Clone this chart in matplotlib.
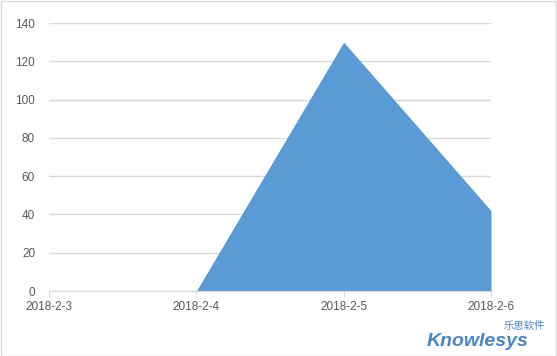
import matplotlib.pyplot as plt
from matplotlib.patches import Rectangle

dates = ['2018-2-3', '2018-2-4', '2018-2-5', '2018-2-6']
values = [0, 0, 130, 42]
y_ticks = [0, 20, 40, 60, 80, 100, 120, 140]

plt.rcParams['font.family'] = ['Liberation Sans', 'Noto Sans CJK SC', 'DejaVu Sans']

fig = plt.figure(figsize=(5.57, 3.56), dpi=100)
ax = fig.add_axes([49 / 557, 1 - 291 / 356, 442 / 557, 268 / 356])

x = list(range(len(dates)))
ax.fill_between(x, values, 0, color='#5b9bd5', linewidth=0)

ax.set_xlim(0, len(dates) - 1)
ax.set_ylim(0, 140)
ax.set_yticks(y_ticks)
ax.set_xticks(x)
ax.set_xticklabels(dates)
ax.grid(axis='y', color='#d9d9d9', linewidth=1)
ax.set_axisbelow(True)

for side in ['top', 'right', 'left']:
    ax.spines[side].set_visible(False)
ax.spines['bottom'].set_color('#d9d9d9')
ax.tick_params(axis='y', length=0, pad=10, labelsize=8.5, labelcolor='#595959')
ax.tick_params(axis='x', length=4, color='#d9d9d9', pad=3, labelsize=8.5, labelcolor='#595959')

# outer border
fig.patches.append(Rectangle((0.001, 0.001), 0.997, 0.996, transform=fig.transFigure,
                             fill=False, edgecolor='#d9d9d9', linewidth=1))

# watermark
fig.text(427 / 557, 1 - 346 / 356, 'Knowlesys', color='#4a86c5', fontsize=14,
         fontweight='bold', style='italic', ha='left', va='baseline')
fig.text(545 / 557, 1 - 331 / 356, '乐思软件', color='#4a86c5', fontsize=7.5,
         ha='right', va='bottom', family=['Noto Sans CJK SC', 'DejaVu Sans'])

plt.savefig('out.png', dpi=100)
